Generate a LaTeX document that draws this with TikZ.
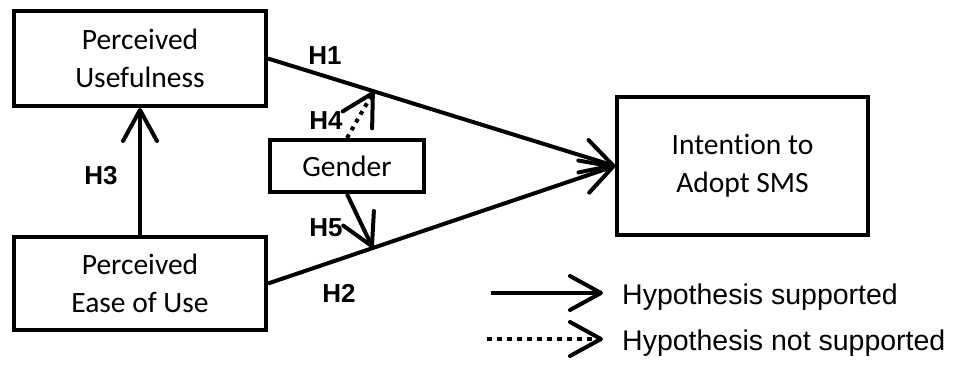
\documentclass[tikz,border=0pt]{standalone}
\usepackage{fontspec}
\setmainfont{Carlito}[Ligatures=NoCommon]
\newfontfamily\arialfont{Liberation Sans}
\usetikzlibrary{arrows.meta,calc}
\begin{document}
\begin{tikzpicture}[x=1pt,y=-1pt,
  box/.style={draw, line width=4pt, inner sep=0pt, align=center, font=\fontsize{29.5}{38}\selectfont},
  hyp/.style={font=\arialfont\bfseries\fontsize{26}{26}\selectfont, inner sep=0pt},
  leg/.style={font=\arialfont\fontsize{28.5}{34}\selectfont, anchor=base west, inner sep=0pt},
  arr/.style={line width=4pt, -{Straight Barb[round,length=31pt,width=34pt]}},
  dotline/.style={dash pattern=on 4pt off 5pt}
]
\useasboundingbox (0,0) rectangle (954,365);

\node[box, minimum width=252pt, minimum height=95pt] (pu) at (140,58.5) {Perceived\\Usefulness};
\node[box, minimum width=252pt, minimum height=93pt] (peou) at (140,283.5) {Perceived\\Ease of Use};
\node[box, minimum width=154pt, minimum height=52pt] (gen) at (347,166) {Gender};
\node[box, minimum width=251pt, minimum height=138pt] (int) at (742.5,166) {Intention to\\Adopt SMS};

\coordinate (h4) at ($(pu.east)!0.305!(int.west)$);
\coordinate (h5) at ($(peou.east)!0.302!(int.west)$);

\draw[arr] (pu.east) -- (int.west);
\draw[arr] (peou.east) -- (int.west);
\draw[arr] (peou.north) -- (pu.south);
\draw[arr, dotline] (gen.north) -- (h4);
\draw[arr] (gen.south) -- (h5);

\node[hyp] (l1) at (325,56) {H1};
\node[hyp] (l4) at (326,121) {H4};
\node[hyp] (l3) at (101,176) {H3};
\node[hyp] (l5) at (326,228) {H5};
\node[hyp] (l2) at (339,293) {H2};

\coordinate (s1) at (491,293);
\coordinate (s2) at (603,293);
\coordinate (d1) at (487,339);
\coordinate (d2) at (603,339);
\draw[arr] (s1) -- (s2);
\draw[arr, dash pattern=on 5pt off 5pt] (d1) -- (d2);
\node[leg] (t1) at (622,304) {Hypothesis supported};
\node[leg] (t2) at (622,350) {Hypothesis not supported};
\end{tikzpicture}
\end{document}
